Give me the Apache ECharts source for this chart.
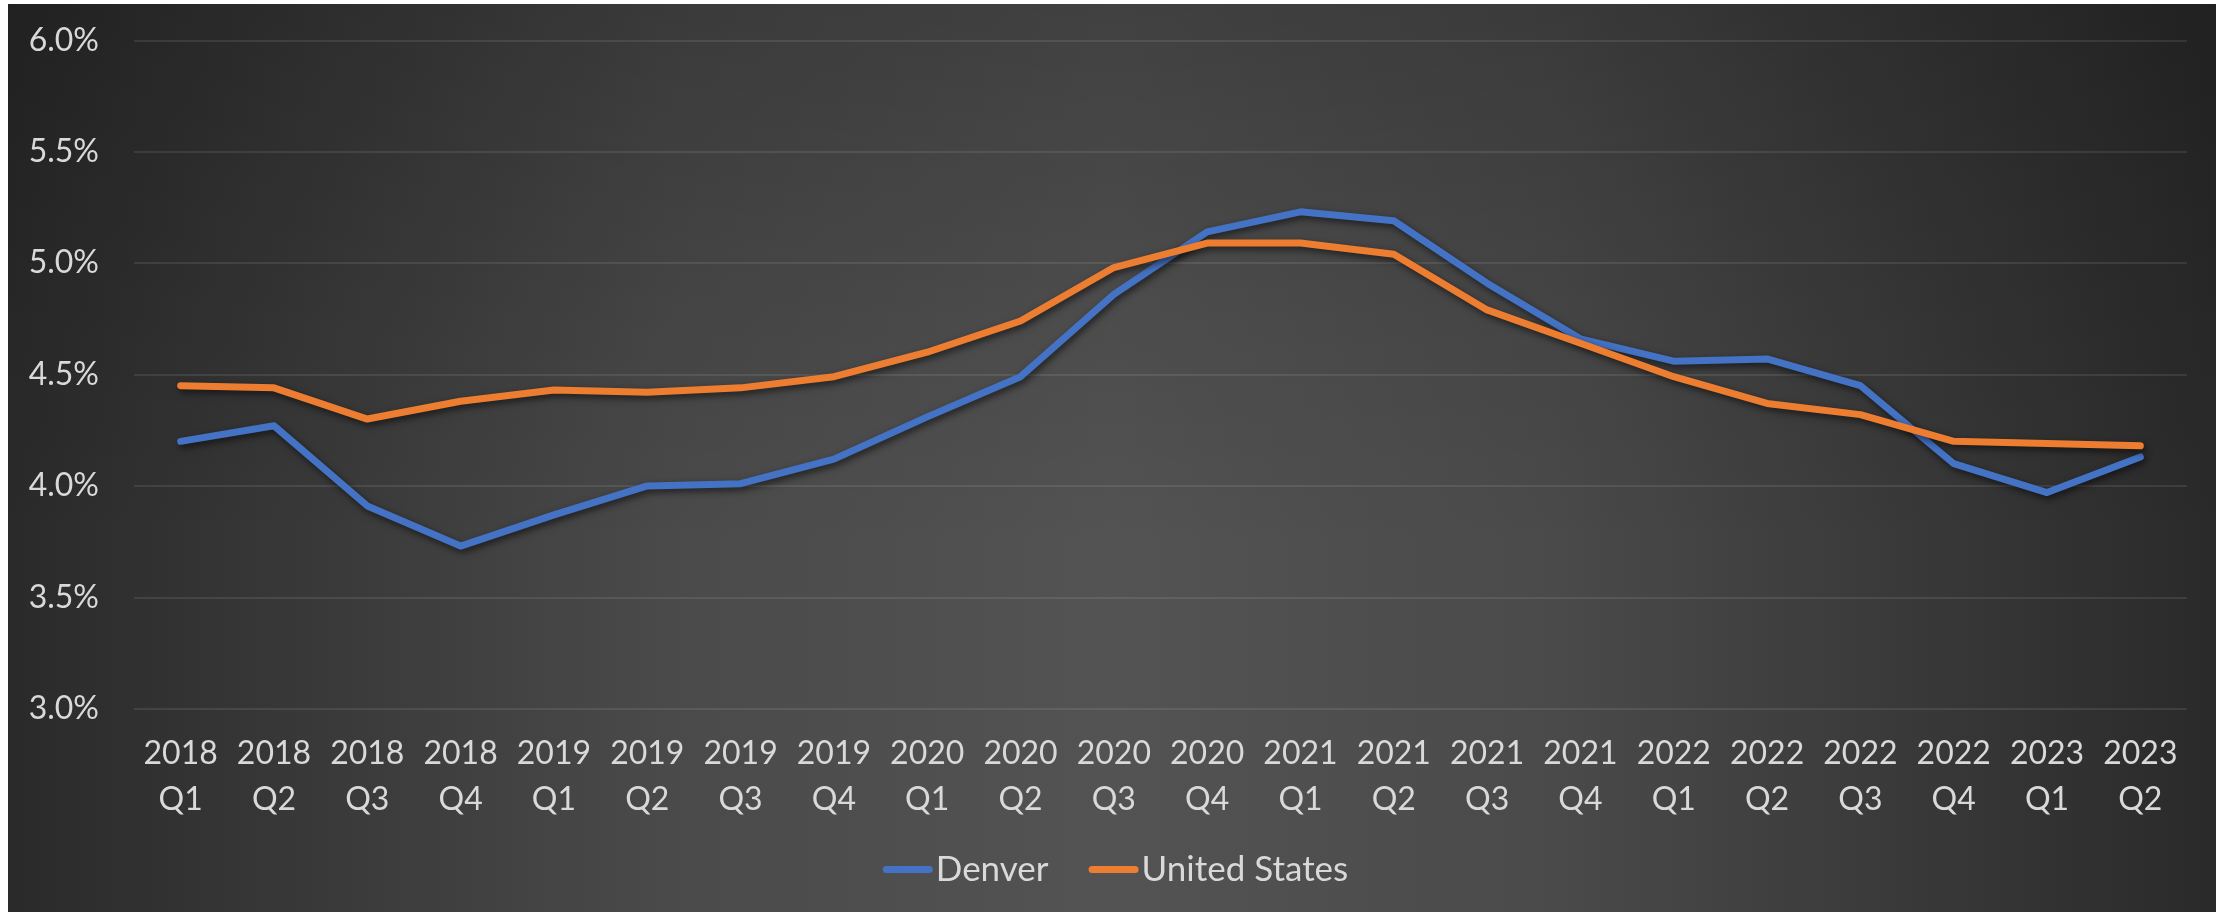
<!DOCTYPE html>
<html>
<head>
<meta charset="utf-8">
<script src="https://cdn.jsdelivr.net/npm/echarts@6/dist/echarts.min.js"></script>
<style>
html,body{margin:0;padding:0;background:#ffffff;}
#chart{width:2231px;height:912px;}
</style>
</head>
<body>
<div id="chart"></div>
<script>
const categories = ['2018\nQ1','2018\nQ2','2018\nQ3','2018\nQ4','2019\nQ1','2019\nQ2','2019\nQ3','2019\nQ4',
  '2020\nQ1','2020\nQ2','2020\nQ3','2020\nQ4','2021\nQ1','2021\nQ2','2021\nQ3','2021\nQ4',
  '2022\nQ1','2022\nQ2','2022\nQ3','2022\nQ4','2023\nQ1','2023\nQ2'];
const denver = [4.20,4.27,3.91,3.73,3.87,4.00,4.01,4.12,4.31,4.49,4.86,5.14,5.23,5.19,4.91,4.66,4.56,4.57,4.45,4.10,3.97,4.13];
const unitedStates = [4.45,4.44,4.30,4.38,4.43,4.42,4.44,4.49,4.60,4.74,4.98,5.09,5.09,5.04,4.79,4.64,4.49,4.37,4.32,4.20,4.19,4.18];
const seriesNames = ['Denver','United States'];

const chart = echarts.init(document.getElementById('chart'));
const textColor = '#d9d9d9';
const font = 'Lato';
const capsule = 'path://M3.5,0 L46.5,0 A3.5,3.5 0 0 1 46.5,7 L3.5,7 A3.5,3.5 0 0 1 3.5,0 Z';
const lineShadow = {shadowColor:'rgba(0,0,0,0.6)', shadowBlur:7, shadowOffsetX:2, shadowOffsetY:3};

chart.setOption({
  animation:false,
  graphic:[
    {type:'rect', z:-20, silent:true, left:8, top:4, shape:{width:2208, height:908},
     style:{fill:{type:'linear', x:0, y:0, x2:1, y2:0, colorStops:[
       {offset:0, color:'#2a2a2a'},{offset:0.15, color:'#3a3a3a'},{offset:0.3, color:'#4a4a4a'},
       {offset:0.5, color:'#535353'},{offset:0.7, color:'#4a4a4a'},{offset:0.85, color:'#3a3a3a'},{offset:1, color:'#2a2a2a'}]}}},
    {type:'rect', z:-19, silent:true, left:8, top:4, shape:{width:2208, height:908},
     style:{fill:{type:'linear', x:0, y:0, x2:0, y2:1, colorStops:[
       {offset:0, color:'rgba(0,0,0,0.22)'},{offset:0.35, color:'rgba(0,0,0,0.08)'},
       {offset:0.6, color:'rgba(0,0,0,0)'},{offset:1, color:'rgba(0,0,0,0)'}]}}}
  ],
  grid:{left:134, right:44, top:40.3, bottom:203.3, containLabel:false},
  legend:{
    data:seriesNames, bottom:20, left:'center', itemWidth:50, itemHeight:7, itemGap:40,
    icon:capsule,
    textStyle:{color:textColor, fontFamily:font, fontSize:35, padding:[0,0,0,-2]}
  },
  xAxis:{
    type:'category', data:categories, boundaryGap:true,
    axisLine:{show:false}, axisTick:{show:false},
    axisLabel:{color:textColor, fontFamily:font, fontSize:32, lineHeight:46, margin:22, interval:0}
  },
  yAxis:{
    type:'value', min:3, max:6, interval:0.5,
    axisLine:{show:false}, axisTick:{show:false},
    axisLabel:{color:textColor, fontFamily:font, fontSize:32, margin:35, formatter:v=>v.toFixed(1)+'%'},
    splitLine:{lineStyle:{color:'rgba(255,255,255,0.12)', width:1.5}}
  },
  series:[
    {name:seriesNames[0], type:'line', data:denver, symbol:'none', color:'#4472c4',
     lineStyle:Object.assign({width:7, color:'#4472c4', cap:'round', join:'round'}, lineShadow), z:3},
    {name:seriesNames[1], type:'line', data:unitedStates, symbol:'none', color:'#ed7d31',
     lineStyle:Object.assign({width:7, color:'#ed7d31', cap:'round', join:'round'}, lineShadow), z:4}
  ]
});
</script>
</body>
</html>
